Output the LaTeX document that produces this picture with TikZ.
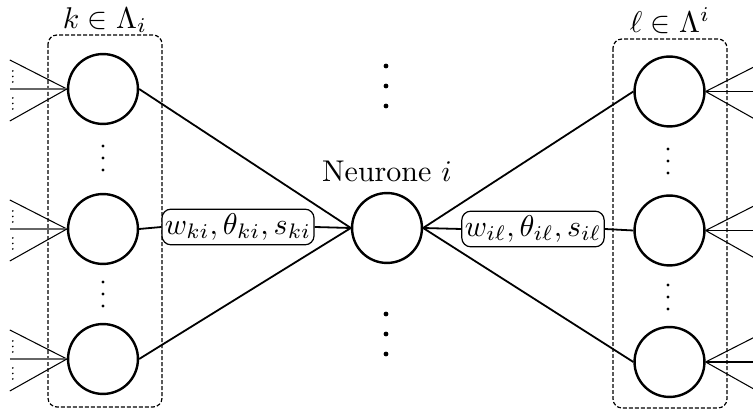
\documentclass[tikz,border=0pt]{standalone}
\usetikzlibrary{calc}
\begin{document}
\begin{tikzpicture}[x=0.3333pt,y=-0.3333pt,
  neuron/.style={circle,draw,line width=0.8pt,minimum size=23.3pt,inner sep=0pt},
  conn/.style={line width=0.6pt},
  inp/.style={line width=0.35pt},
  group/.style={draw,line width=0.4pt,dash pattern=on 1.3pt off 0.7pt,rounded corners=3pt},
  wlabel/.style={draw,line width=0.4pt,rounded corners=3pt,inner xsep=1pt,inner ysep=1.5pt,fill=white},
  bigdot/.style={circle,fill,inner sep=0pt,minimum size=1.6pt},
  middot/.style={circle,fill,inner sep=0pt,minimum size=1.1pt},
  tinydot/.style={circle,fill,inner sep=0pt,minimum size=0.6pt}]
\useasboundingbox (0,0) rectangle (753,410);
\clip (0,0) rectangle (753,410);

% groups
\draw[group] (48,35) rectangle (162,407);
\draw[group] (613,39) rectangle (727,408);
\node[inner sep=0pt] (lk) at (105,20) {$k\in\Lambda_i$};
\node[inner sep=0pt] (ll) at (670,21) {$\ell\in\Lambda^i$};

% neurons
\node[neuron] (L1) at (103,89) {};
\node[neuron] (L2) at (103,229) {};
\node[neuron] (L3) at (103,359) {};
\node[neuron] (C) at (387,228) {};
\node[neuron] (R1) at (669.5,91.5) {};
\node[neuron] (R2) at (669.5,230.5) {};
\node[neuron] (R3) at (669.5,362) {};
\node (cl) at (387,171) {Neurone $i$};

% column dots
\foreach \y in {146,158,170,282,294,306} \node[middot] at (103,\y) {};
\foreach \y in {149,161,173,285,297,309} \node[middot] at (668,\y) {};
\foreach \y in {66,86,106,314,334,354} \node[bigdot] at (386,\y) {};

% inputs on the left
\foreach \n in {L1,L2,L3} {
  \coordinate (\n a) at ($(\n.west)+(-57,-29)$);
  \coordinate (\n b) at ($(\n.west)+(-57,0)$);
  \coordinate (\n c) at ($(\n.west)+(-57,32)$);
  \draw[inp] (\n a) -- (\n.west);
  \draw[inp,black!60] (\n b) -- (\n.west);
  \draw[inp] (\n c) -- (\n.west);
  \foreach \d in {-18,-12.5,-7,9,14.5,20}
    \node[tinydot] at ($(\n.west)+(-54,\d)$) {};
}
% outputs on the right
\foreach \n in {R1,R2,R3} {
  \coordinate (\n a) at ($(\n.east)+(57,-29)$);
  \coordinate (\n b) at ($(\n.east)+(57,0)$);
  \coordinate (\n c) at ($(\n.east)+(57,32)$);
  \draw[inp] (\n.east) -- (\n a);
  \draw[inp] (\n.east) -- (\n b);
  \draw[inp] (\n.east) -- (\n c);
}

% connections
\draw[conn] (L1.east) -- (C.west);
\draw[conn] (L3.east) -- (C.west);
\draw[conn] (C.east) -- (R1.west);
\draw[conn] (C.east) -- (R3.west);
\node[wlabel] (wl) at (238,227) {$w_{ki},\theta_{ki},s_{ki}$};
\node[wlabel] (wr) at (533,229) {$w_{i\ell},\theta_{i\ell},s_{i\ell}$};
\draw[conn] (L2.east) -- (wl.west);
\draw[conn] (wl.east) -- (C.west);
\draw[conn] (C.east) -- (wr.west);
\draw[conn] (wr.east) -- (R2.west);
\end{tikzpicture}
\end{document}
